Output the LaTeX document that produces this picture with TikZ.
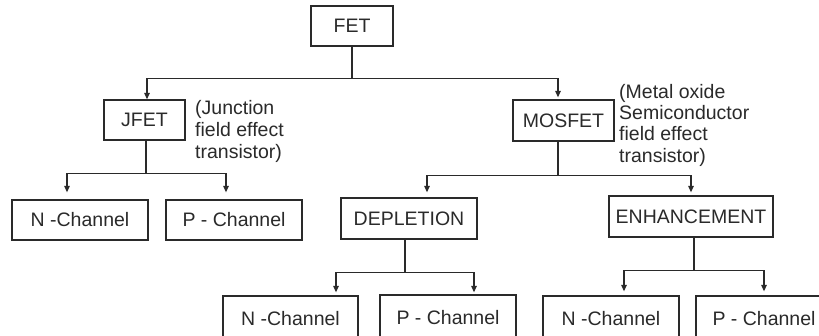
\documentclass[tikz,border=0pt]{standalone}
\usepackage{fontspec}
\setmainfont{Liberation Sans}
\usetikzlibrary{arrows.meta,calc}
\definecolor{ink}{HTML}{2A2A2A}
\tikzset{
  box/.style={draw=ink, line width=1.3pt, text=ink, inner sep=0pt,
    minimum height=40pt, font=\fontsize{19.5}{22}\selectfont},
  note/.style={text=ink, inner sep=0pt, align=left, anchor=base west},
  link/.style={draw=ink, line width=1.2pt},
  arr/.style={link, -{Triangle[length=6.5pt,width=5.5pt]}}
}
\begin{document}
\begin{tikzpicture}[x=1pt,y=-1pt]
\useasboundingbox (0,0) rectangle (819,335);
\clip (0,0) rectangle (819,335);
\fill[white] (0,0) rectangle (819,335);
% nodes
\node[box, minimum width=82pt]  (fet)  at (352,26) {FET};
\node[box, minimum width=81pt]  (jfet) at (144.5,120) {JFET};
\node[box, minimum width=101pt, minimum height=41pt] (mos) at (563.5,120.5) {MOSFET};
\node[box, minimum width=136pt] (jn) at (80,220) {N -Channel};
\node[box, minimum width=136pt] (jp) at (234,220) {P - Channel};
\node[box, minimum width=136pt, minimum height=41pt] (dep) at (409,218.5) {DEPLETION};
\node[box, minimum width=164pt, minimum height=41pt] (enh) at (691,216.5) {ENHANCEMENT};
\node[box, minimum width=135pt, minimum height=46pt] (dn) at (290.5,319) {N -Channel};
\node[box, minimum width=136pt, minimum height=46pt] (dp) at (448,318) {P - Channel};
\node[box, minimum width=136pt, minimum height=46pt] (en) at (611,319) {N -Channel};
\node[box, minimum width=136pt, minimum height=46pt] (ep) at (764,319) {P - Channel};
% annotations
\node[note, font=\fontsize{19.5}{22}\selectfont] (jnote) at (195,158)
  {(Junction\\field effect\\transistor)};
\node[note, font=\fontsize{19.5}{21.3}\selectfont] (mnote) at (619,162)
  {(Metal oxide\\Semiconductor\\field effect\\transistor)};
% connectors
\draw[arr] (fet.south) -- ++(0,32) -| ([xshift=2.5pt]jfet.north);
\draw[arr, shorten >=2pt] (fet.south) -- ++(0,32) -| ([xshift=-5.5pt]mos.north);
\draw[arr, shorten >=7pt] ([xshift=1.5pt]jfet.south) -- ++(0,33) -| ([xshift=-13pt]jn.north);
\draw[arr, shorten >=7pt] ([xshift=1.5pt]jfet.south) -- ++(0,33) -| ([xshift=-8pt]jp.north);
\draw[arr, shorten >=5pt] ([xshift=-5.5pt]mos.south) -- ++(0,33.5) -| ([xshift=18pt]dep.north);
\draw[arr, shorten >=3pt] ([xshift=-5.5pt]mos.south) -- ++(0,33.5) -| (enh.north);
\draw[arr, shorten >=3pt] ([xshift=-4pt]dep.south) -- ++(0,33) -| ([xshift=45.5pt]dn.north);
\draw[arr, shorten >=2pt] ([xshift=-4pt]dep.south) -- ++(0,33) -| ([xshift=26pt]dp.north);
\draw[arr, shorten >=4pt] ([xshift=3pt]enh.south) -- ++(0,33) -| ([xshift=13pt]en.north);
\draw[arr, shorten >=4pt] ([xshift=3pt]enh.south) -- ++(0,33) -| (ep.north);
\end{tikzpicture}
\end{document}
